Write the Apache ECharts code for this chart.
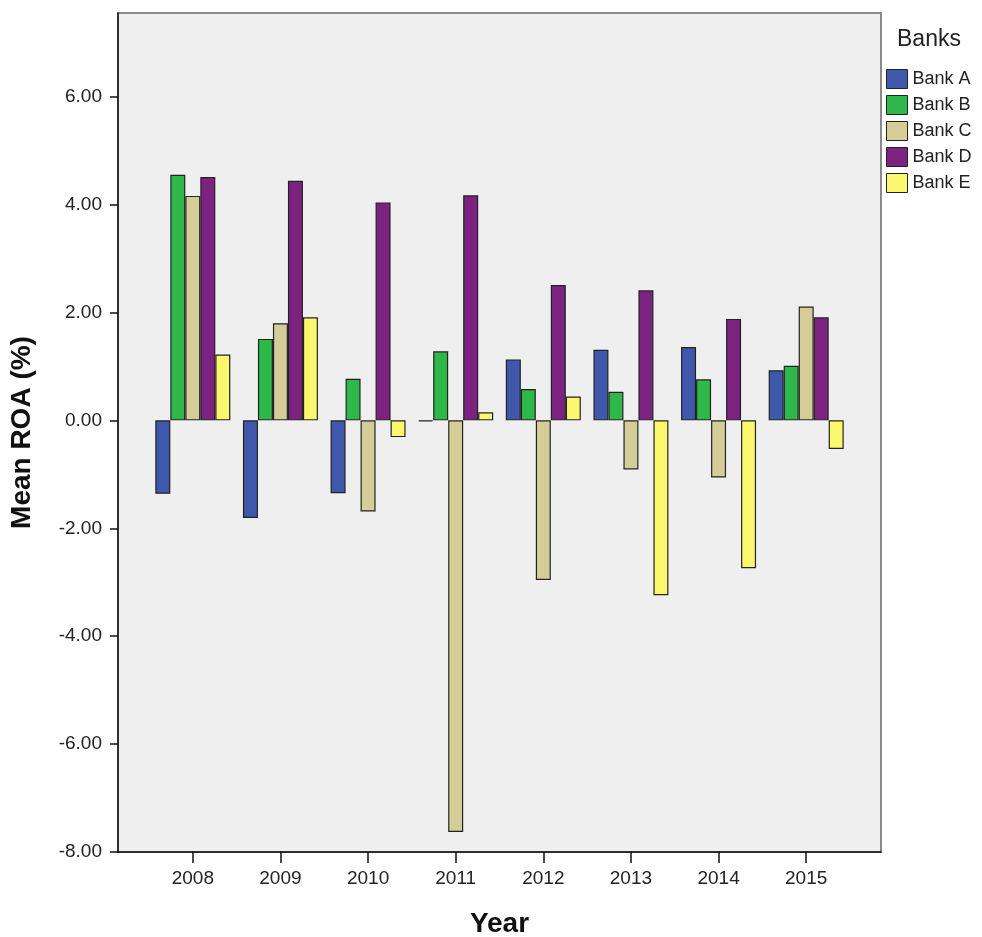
<!DOCTYPE html>
<html>
<head>
<meta charset="utf-8">
<script src="https://cdn.jsdelivr.net/npm/echarts@6/dist/echarts.min.js"></script>
<style>
html,body{margin:0;padding:0;background:#fff;}
#chart{width:982px;height:937px;}
</style>
</head>
<body>
<div id="chart"></div>
<script>
const years = ['2008','2009','2010','2011','2012','2013','2014','2015'];
const bankNames = ['Bank A','Bank B','Bank C','Bank D','Bank E'];
const bankA = [-1.36, -1.81, -1.35, -0.02, 1.13, 1.31, 1.36, 0.93];
const bankB = [4.55, 1.51, 0.77, 1.28, 0.58, 0.53, 0.76, 1.01];
const bankC = [4.16, 1.80, -1.69, -7.63, -2.96, -0.91, -1.06, 2.11];
const bankD = [4.51, 4.44, 4.04, 4.17, 2.51, 2.41, 1.88, 1.91];
const bankE = [1.22, 1.91, -0.31, 0.15, 0.44, -3.24, -2.74, -0.53];
const yTicks = [-8, -6, -4, -2, 0, 2, 4, 6];
const colors = ['#3F58AB', '#2EB84A', '#D4CD98', '#7C2382', '#FCF86E'];

const seriesValues = [bankA, bankB, bankC, bankD, bankE];
const Y_MIN = -8, Y_MAX = 7.55;
const font = 'Liberation Sans, Arial, sans-serif';

const chart = echarts.init(document.getElementById('chart'));
chart.setOption({
  backgroundColor: '#fff',
  animation: false,
  title: {
    text: 'Banks', left: 897, top: 28, padding: 0,
    textStyle: {fontFamily: font, fontSize: 23, fontWeight: 'normal', color: '#222'}
  },
  legend: {
    data: bankNames, orient: 'vertical', left: 886, top: 69, padding: 0,
    itemWidth: 21, itemHeight: 19, itemGap: 6, icon: 'rect',
    itemStyle: {borderColor: '#222', borderWidth: 1},
    textStyle: {fontFamily: font, fontSize: 18, color: '#222'}
  },
  grid: [
    {left: 118, right: 101, top: 13, bottom: 85, show: true, outerBoundsMode: 'none', containLabel: false,
     backgroundColor: '#EFEFEF', borderColor: '#8a8a8a', borderWidth: 2},
    {left: 149, right: 132, top: 13, bottom: 85, outerBoundsMode: 'none', containLabel: false}
  ],
  xAxis: [
    {gridIndex: 0, type: 'value', min: 0, max: 1, show: true,
     axisLine: {show: true, onZero: false, lineStyle: {color: '#111', width: 1.5}},
     axisTick: {show: false}, axisLabel: {show: false}, splitLine: {show: false},
     name: 'Year', nameLocation: 'middle', nameGap: 58,
     nameTextStyle: {fontFamily: font, fontSize: 28, fontWeight: 'bold', color: '#111'}},
    {gridIndex: 1, type: 'category', data: years,
     axisLine: {show: false, onZero: false},
     axisTick: {show: true, alignWithLabel: true, length: 11, lineStyle: {color: '#111', width: 1.5}},
     axisLabel: {fontFamily: font, fontSize: 19, color: '#222', margin: 17},
     splitLine: {show: false}}
  ],
  yAxis: [
    {gridIndex: 0, type: 'value', min: Y_MIN, max: Y_MAX,
     axisLine: {show: true, onZero: false, lineStyle: {color: '#111', width: 1.5}},
     axisTick: {show: true, length: 8, customValues: yTicks, lineStyle: {color: '#111', width: 1.5}},
     axisLabel: {fontFamily: font, fontSize: 19, color: '#222', margin: 16, customValues: yTicks,
                 formatter: v => v.toFixed(2)},
     splitLine: {show: false},
     name: 'Mean ROA (%)', nameLocation: 'middle', nameGap: 82,
     nameTextStyle: {fontFamily: font, fontSize: 28, fontWeight: 'bold', color: '#111'}},
    {gridIndex: 1, type: 'value', min: Y_MIN, max: Y_MAX, show: false}
  ],
  series: bankNames.map((n, i) => ({
    name: n, type: 'bar', xAxisIndex: 1, yAxisIndex: 1,
    data: seriesValues[i], barWidth: 15, barGap: '0%',
    itemStyle: {color: colors[i], borderColor: '#222', borderWidth: 1.2}
  }))
});
</script>
</body>
</html>
